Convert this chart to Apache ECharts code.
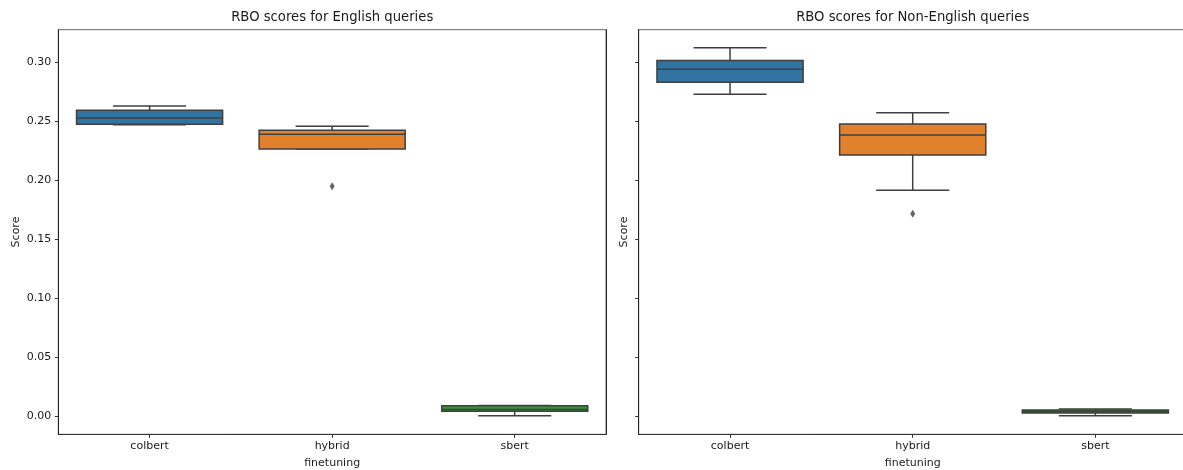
<!DOCTYPE html>
<html>
<head>
<meta charset="utf-8">
<script src="https://cdn.jsdelivr.net/npm/echarts@6/dist/echarts.min.js"></script>
<style>
  html, body { margin: 0; padding: 0; background: #fff; }
  #chart { width: 1183px; height: 470px; }
</style>
</head>
<body>
<div id="chart"></div>
<script>
// Categories of finetuning approach
const categories = ['colbert', 'hybrid', 'sbert'];

// Box statistics per category: [lower whisker, Q1, median, Q3, upper whisker]
const englishStats = [
  [0.2471, 0.2475, 0.2528, 0.2593, 0.2630],
  [0.2265, 0.2265, 0.2390, 0.2424, 0.2458],
  [0.0005, 0.0042, 0.0058, 0.0090, 0.0092]
];
const nonEnglishStats = [
  [0.2729, 0.2831, 0.2941, 0.3014, 0.3124],
  [0.1915, 0.2214, 0.2384, 0.2477, 0.2573],
  [0.0005, 0.0028, 0.0041, 0.0053, 0.0062]
];

// Outlier points: [category, score]
const englishOutliers = [['hybrid', 0.1949]];
const nonEnglishOutliers = [['hybrid', 0.1717]];

// Y tick values
const yTicks = [0.00, 0.05, 0.10, 0.15, 0.20, 0.25, 0.30];

const boxColors = ['#3274a1', '#e1812c', '#3a923a'];
const lineColor = '#3f3f3f';
const textColor = '#1a1a1a';
const FONT = 'DejaVu Sans';
const Y_MIN = -0.0153, Y_MAX = 0.3276;

function renderBox(params, api) {
  const xi = api.value(0);
  const lo = api.value(1), q1 = api.value(2), med = api.value(3), q3 = api.value(4), hi = api.value(5);
  const band = api.size([1, 0])[0];
  const boxW = band * 0.8, capW = band * 0.4;
  const pLo = api.coord([xi, lo]);
  const pQ1 = api.coord([xi, q1]);
  const pMed = api.coord([xi, med]);
  const pQ3 = api.coord([xi, q3]);
  const pHi = api.coord([xi, hi]);
  const cx = pMed[0];
  const ls = { stroke: lineColor, lineWidth: 1.5 };
  const line = (x1, y1, x2, y2) => ({ type: 'line', shape: { x1, y1, x2, y2 }, style: ls });
  return {
    type: 'group',
    children: [
      line(cx, pQ1[1], cx, pLo[1]),
      line(cx, pQ3[1], cx, pHi[1]),
      line(cx - capW / 2, pLo[1], cx + capW / 2, pLo[1]),
      line(cx - capW / 2, pHi[1], cx + capW / 2, pHi[1]),
      {
        type: 'rect',
        shape: { x: cx - boxW / 2, y: pQ3[1], width: boxW, height: pQ1[1] - pQ3[1] },
        style: { fill: boxColors[params.dataIndex], stroke: lineColor, lineWidth: 1.5 }
      },
      line(cx - boxW / 2, pMed[1], cx + boxW / 2, pMed[1])
    ]
  };
}

function boxData(stats) {
  return stats.map((s, i) => [i].concat(s));
}

const grids = [
  { left: 58.3, top: 29.7, width: 547.7, height: 404.6 },
  { left: 638.7, top: 29.7, width: 548, height: 404.6 }
];

function xAxisFor(gi) {
  return {
    type: 'category', gridIndex: gi, data: categories,
    name: 'finetuning', nameLocation: 'middle', nameGap: 23,
    nameTextStyle: { fontFamily: FONT, fontSize: 11, color: textColor },
    axisLine: { show: true, onZero: false, lineStyle: { color: '#333', width: 1 } },
    axisTick: { show: true, alignWithLabel: true, length: 3.5, lineStyle: { color: '#333' } },
    axisLabel: { fontFamily: FONT, fontSize: 11, color: textColor, margin: 6 },
    splitLine: { show: false }
  };
}

function yAxisFor(gi, showLabels, nameGap) {
  return {
    type: 'value', gridIndex: gi, min: Y_MIN, max: Y_MAX,
    name: 'Score', nameLocation: 'middle', nameGap: nameGap, nameRotate: 90,
    nameTextStyle: { fontFamily: FONT, fontSize: 11, color: textColor },
    axisLine: { show: true, onZero: false, lineStyle: { color: '#222', width: 1 } },
    axisTick: { show: true, length: 3.5, customValues: yTicks, lineStyle: { color: '#333' } },
    axisLabel: {
      show: showLabels, customValues: yTicks, fontFamily: FONT, fontSize: 11, color: textColor, margin: 7,
      formatter: v => v.toFixed(2)
    },
    splitLine: { show: false }
  };
}

function rightEdgeAxis(gi) {
  return {
    type: 'value', gridIndex: gi, position: 'right', min: Y_MIN, max: Y_MAX,
    axisLine: { show: true, onZero: false, lineStyle: { color: '#222', width: 1 } },
    axisTick: { show: false }, axisLabel: { show: false }, splitLine: { show: false }
  };
}

function panelSeries(stats, outliers, gi) {
  return [
    {
      type: 'custom', xAxisIndex: gi, yAxisIndex: gi * 2,
      renderItem: renderBox,
      encode: { x: 0, y: [1, 2, 3, 4, 5] },
      data: boxData(stats),
      silent: true
    },
    {
      type: 'scatter', xAxisIndex: gi, yAxisIndex: gi * 2,
      symbol: 'diamond', symbolSize: [5, 8],
      itemStyle: { color: lineColor },
      data: outliers,
      silent: true
    }
  ];
}

const chart = echarts.init(document.getElementById('chart'), null, { renderer: 'canvas' });
chart.setOption({
  animation: false,
  backgroundColor: '#fff',
  title: [
    { text: 'RBO scores for English queries', left: 332.2, top: 11, textAlign: 'center', padding: 0,
      textStyle: { fontFamily: FONT, fontSize: 13.2, fontWeight: 'normal', color: textColor } },
    { text: 'RBO scores for Non-English queries', left: 912.7, top: 11, textAlign: 'center', padding: 0,
      textStyle: { fontFamily: FONT, fontSize: 13.2, fontWeight: 'normal', color: textColor } }
  ],
  grid: grids.map(g => Object.assign({
    show: true, borderColor: '#666', borderWidth: 1, backgroundColor: 'transparent',
    containLabel: false, outerBoundsMode: 'none'
  }, g)),
  xAxis: [xAxisFor(0), xAxisFor(1)],
  yAxis: [yAxisFor(0, true, 37), rightEdgeAxis(0), yAxisFor(1, false, 9), rightEdgeAxis(1)],
  series: panelSeries(englishStats, englishOutliers, 0).concat(panelSeries(nonEnglishStats, nonEnglishOutliers, 1))
});
</script>
</body>
</html>
